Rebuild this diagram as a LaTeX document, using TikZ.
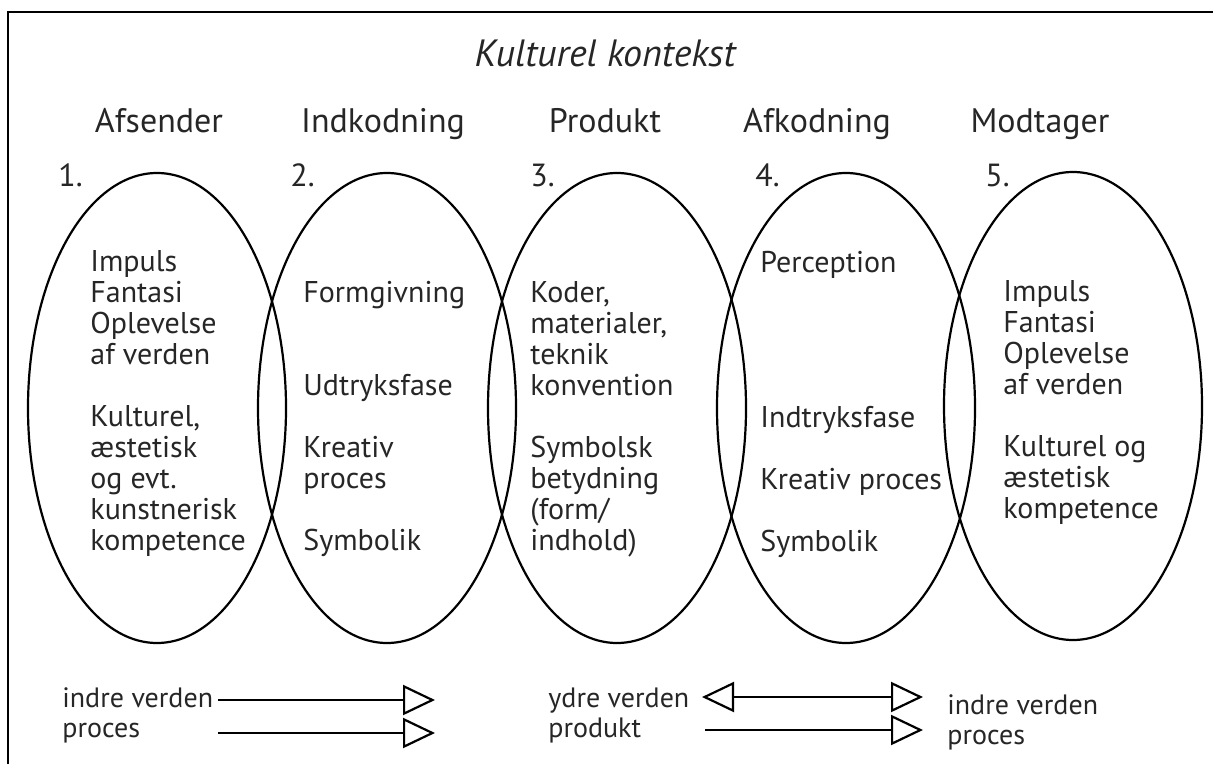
\documentclass[tikz,border=0pt]{standalone}
\usepackage{fontspec}
\setmainfont{PT Sans}
\usetikzlibrary{arrows.meta}
\begin{document}
\begin{tikzpicture}[x=0.5pt,y=-0.5pt,
  txt/.style={align=left,anchor=north west,inner sep=0pt,text=black!85,font=\fontsize{15}{15.5}\selectfont},
  head/.style={anchor=base,inner sep=0pt,text=black!85,font=\fontsize{17}{20}\selectfont},
  num/.style={anchor=base west,inner sep=0pt,text=black!85,font=\fontsize{16}{19}\selectfont},
  pil/.style={line width=1.1pt,-{Triangle[open,length=16pt,width=15pt]}},
  dobbeltpil/.style={line width=1.1pt,{Triangle[open,length=16pt,width=15pt]}-{Triangle[open,length=16pt,width=15pt]}}]
\useasboundingbox (0,0) rectangle (1213,764);
\draw[line width=1pt] (8,764) -- (8,12) -- (1213,12);
\node[head,font=\fontsize{19}{22}\selectfont\itshape] (kontekst) at (605,67) {Kulturel kontekst};
\node[head] (afsender) at (159,133) {Afsender};
\node[head] (indkodning) at (383,133) {Indkodning};
\node[head] (produkt) at (605,133) {Produkt};
\node[head] (afkodning) at (817,133) {Afkodning};
\node[head] (modtager) at (1040,133) {Modtager};
\node[num] (n1) at (58,187) {1.};
\node[num] (n2) at (290,187) {2.};
\node[num] (n3) at (530,187) {3.};
\node[num] (n4) at (755,187) {4.};
\node[num] (n5) at (985,187) {5.};
\draw[line width=1.1pt] (157,408) ellipse (129 and 235);
\draw[line width=1.1pt] (387,408) ellipse (129 and 235);
\draw[line width=1.1pt] (617,408) ellipse (129 and 235);
\draw[line width=1.1pt] (846,408) ellipse (129 and 235);
\draw[line width=1.1pt] (1073,406) ellipse (129 and 234);
\node[txt] (t1) at (90,250) {Impuls\\Fantasi\\Oplevelse\\af verden\\[15.5pt]Kulturel,\\æstetisk\\og evt.\\kunstnerisk\\kompetence};
\node[txt] (t2) at (303,281) {Formgivning\\[31pt]Udtryksfase\\[15.5pt]Kreativ\\proces\\[15.5pt]Symbolik};
\node[txt] (t3) at (530,281) {Koder,\\materialer,\\teknik\\konvention\\[15.5pt]Symbolsk\\betydning\\(form/\\indhold)};
\node[txt] (t4) at (760,251) {Perception\\[62pt]Indtryksfase\\[15.5pt]Kreativ proces\\[15.5pt]Symbolik};
\node[txt] (t5) at (1003,280) {Impuls\\Fantasi\\Oplevelse\\af verden\\[15.5pt]Kulturel og\\æstetisk\\kompetence};
\node[txt,font=\fontsize{14}{15}\selectfont] (indre) at (62,687) {indre verden\\proces};
\node[txt,font=\fontsize{14}{15}\selectfont] (ydre) at (548,687) {ydre verden\\produkt};
\node[txt,font=\fontsize{14}{15}\selectfont] (indre2) at (947,694) {indre verden\\proces};
\coordinate (a1) at (218,700);
\coordinate (b1) at (435,700);
\coordinate (a2) at (218,733);
\coordinate (b2) at (435,733);
\coordinate (a3) at (702,697);
\coordinate (b3) at (923,697);
\coordinate (a4) at (705,730);
\coordinate (b4) at (923,730);
\draw[pil] (a1) -- (b1);
\draw[pil] (a2) -- (b2);
\draw[dobbeltpil] (a3) -- (b3);
\draw[pil] (a4) -- (b4);
\end{tikzpicture}
\end{document}
